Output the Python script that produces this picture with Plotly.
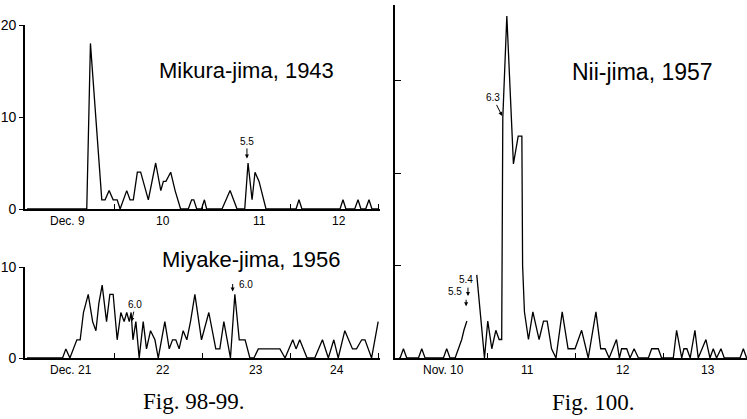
import plotly.graph_objects as go

# Hourly shock counts; hours are counted from 00h of the first labelled day.
mikura_hours = [0, 16.3, 17.3, 20.4, 21.3, 22.4, 23.5, 24.6, 25.4, 27.2,
                28.1, 29.0, 30.1, 31.0, 33.1, 35.1, 36.5, 37.2, 37.9, 39.2,
                40.4, 41.9, 44.0, 44.9, 45.5, 46.3, 47.6, 48.4, 49.0, 53.2,
                55.4, 57.3, 59.4, 60.3, 61.4, 62.2, 63.3, 65.2, 73.4, 74.2,
                75.0, 85.4, 86.2, 87.0, 89.4, 90.3, 91.1, 92.4, 93.3, 94.1, 96]
mikura_counts = [0, 0, 18, 1, 1, 2, 1, 1, 0, 2,
                 1, 1, 4, 4, 1, 5, 2, 3, 3, 4,
                 2, 0, 0, 1, 1, 0, 0, 1, 0, 0,
                 2, 0, 0, 5, 1, 4, 3, 0, 0, 1,
                 0, 0, 1, 0, 0, 1, 0, 0, 1, 0, 0]

miyake_hours = [0, 9.7, 10.6, 11.7, 13.6, 14.5, 15.4, 16.7, 17.9, 18.8,
                19.6, 20.5, 21.7, 22.6, 23.5, 24.6, 25.6, 26.5, 27.2, 27.9,
                28.4, 28.9, 29.7, 30.6, 31.7, 32.6, 33.7, 34.9, 35.8, 37.6,
                38.8, 39.7, 40.6, 41.5, 42.6, 43.6, 44.6, 45.8, 47.6, 49.6,
                51.5, 52.6, 53.7, 55.5, 56.7, 57.9, 59.5, 60.8, 61.9, 63.1,
                65.8, 69.0, 70.4, 72.5, 73.4, 74.4, 76.4, 78.5, 80.6, 82.2,
                83.7, 84.9, 86.7, 88.8, 89.9, 91.3, 92.2, 94.0, 95.8]
miyake_counts = [0, 0, 1, 0, 2, 2, 5, 7, 4, 3,
                 6, 8, 4, 7, 7, 2, 5, 4, 5, 4,
                 5, 2, 4, 0, 4, 1, 3, 2, 0, 4,
                 1, 2, 2, 1, 3, 2, 4, 7, 2, 5,
                 1, 1, 4, 0, 7, 2, 2, 0, 0, 1,
                 1, 1, 0, 2, 1, 2, 0, 0, 2, 0,
                 2, 0, 3, 1, 1, 2, 2, 0, 4]

# None marks the break in the record before the 5.4 shock.
niijima_hours = [0, 0.3, 1.2, 2.1, 5.3, 6.2, 7.1, 12.1, 13.0, 13.9,
                 15.3, 16.2, 17.1, 17.7, 18.5, None,
                 21.2, 23.3, 24.2, 25.3, 26.4, 27.3, 28.0, 28.3, 29.4, 31.2,
                 32.5, 33.5, 33.7, 34.2, 35.3, 36.5, 38.2, 39.4, 40.4, 41.6,
                 42.8, 44.5, 46.1, 48.0, 49.8, 51.6, 53.7, 55.0, 56.2, 57.3,
                 59.3, 60.1, 60.7, 62.1, 63.0, 64.1, 65.3, 68.0, 68.9, 70.7,
                 71.6, 74.8, 75.7, 77.1, 77.7, 78.5, 79.4, 80.7, 81.6, 83.7,
                 84.8, 85.7, 86.6, 87.8, 88.7, 93.0, 93.9, 94.8]
niijima_counts = [0, 0, 1, 0, 0, 1, 0, 0, 1, 0,
                  0, 1, 2, 3, 4, None,
                  9, 0, 4, 1, 3, 2, 2, 26, 37, 21,
                  24, 24, 10, 5, 2, 5, 2, 4, 4, 1,
                  0, 5, 1, 1, 3, 0, 5, 1, 1, 0,
                  2, 0, 1, 1, 0, 1, 0, 0, 1, 1,
                  0, 0, 3, 0, 1, 1, 0, 3, 0, 2,
                  0, 1, 0, 1, 0, 0, 1, 0]

# midnight marks on the time axes, and where each day's name is lettered
day_bounds = [24, 48, 72, 96]
mikura_ticks = [11, 37, 63.5, 85]
mikura_labels = ["Dec. 9", "10", "11", "12"]
miyake_ticks = [12, 37, 62.5, 84.5]
miyake_labels = ["Dec. 21", "22", "23", "24"]
niijima_ticks = [12, 35, 61, 84.3]
niijima_labels = ["Nov. 10", "11", "12", "13"]

SANS = "Liberation Sans"
SERIF = "Liberation Serif"

fig = go.Figure()
line = dict(color="black", width=1.3)
fig.add_trace(go.Scatter(x=mikura_hours, y=mikura_counts, mode="lines", line=line,
                         xaxis="x", yaxis="y", showlegend=False))
fig.add_trace(go.Scatter(x=miyake_hours, y=miyake_counts, mode="lines", line=line,
                         xaxis="x2", yaxis="y2", showlegend=False))
fig.add_trace(go.Scatter(x=niijima_hours, y=niijima_counts, mode="lines", line=line,
                         connectgaps=False, xaxis="x3", yaxis="y3", showlegend=False))


def xaxis_style(domain, rng, anchor):
    return dict(domain=domain, range=rng, anchor=anchor, automargin=False,
                showgrid=False, zeroline=False,
                showline=True, linecolor="black", linewidth=1.5,
                tickmode="array", tickvals=day_bounds, ticks="inside", ticklen=5,
                tickwidth=1.2, tickcolor="black", showticklabels=False)


def yaxis_style(domain, rng, anchor, tickvals, side_ticks, ticklen, labels=True):
    return dict(domain=domain, range=rng, anchor=anchor, automargin=False,
                showgrid=False, zeroline=False,
                showline=True, linecolor="black", linewidth=1.8, ticks=side_ticks,
                ticklen=ticklen, tickwidth=1, tickcolor="black", tickvals=tickvals,
                showticklabels=labels, tickfont=dict(family=SANS, size=14, color="black"))


left_dom = [25 / 747, 380 / 747]
right_dom = [395 / 747, 1.0]
fig.update_layout(
    template="none",
    width=747, height=419, autosize=False,
    margin=dict(l=0, r=0, t=0, b=0, pad=0),
    paper_bgcolor="white", plot_bgcolor="white",
    font=dict(family=SANS, color="black"),
    xaxis=xaxis_style(left_dom, [-0.55, 96.3], "y"),
    yaxis=yaxis_style([1 - 209 / 419, 1 - 25 / 419], [0, 20], "x", [0, 10, 20], "outside", 4),
    xaxis2=xaxis_style(left_dom, [-0.55, 96.3], "y2"),
    yaxis2=yaxis_style([1 - 358 / 419, 1 - 267 / 419], [0, 10], "x2", [0, 10], "outside", 4),
    xaxis3=xaxis_style(right_dom, [-1.1, 94.9], "y3"),
    yaxis3=yaxis_style([1 - 358 / 419, 1 - 5 / 419], [0, 38.2], "x3", [10, 20, 30], "inside", 6,
                       labels=False),
)

mag_font = dict(family=SANS, size=10, color="black")
arrow = dict(showarrow=True, arrowhead=2, arrowsize=0.8, arrowwidth=1, arrowcolor="black",
             standoff=0, font=mag_font)


def label(x, y, text, size, family=SANS):
    return dict(x=x / 747, y=1 - y / 419, xref="paper", yref="paper", text=text,
                xanchor="center", yanchor="middle", showarrow=False,
                font=dict(family=family, size=size, color="black"))


def day_names(positions, names, xref, yref):
    return [dict(x=p, y=0, xref=xref, yref=yref, text=n, xanchor="center", yanchor="top",
                 yshift=-3, showarrow=False, font=dict(family=SANS, size=12, color="black"))
            for p, n in zip(positions, names)]


annotations = [
    # magnitudes of the principal shocks
    dict(x=60.0, y=5.5, xref="x", yref="y", text="5.5", ax=0, ay=-17, **arrow),
    dict(x=28.5, y=4.0, xref="x2", yref="y2", text="6.0", ax=4, ay=-17, **arrow),
    dict(x=56.1, y=7.3, xref="x2", yref="y2", text="", ax=0, ay=-9, **arrow),
    dict(x=59.7, y=8.1, xref="x2", yref="y2", text="6.0", showarrow=False, font=mag_font),
    dict(x=28.1, y=26.2, xref="x3", yref="y3", text="6.3", ax=-9, ay=-18, **arrow),
    dict(x=18.3, y=8.45, xref="x3", yref="y3", text="5.4", showarrow=False, font=mag_font),
    dict(x=18.8, y=6.7, xref="x3", yref="y3", text="", ax=0, ay=-10, **arrow),
    dict(x=15.3, y=7.15, xref="x3", yref="y3", text="5.5", showarrow=False, font=mag_font),
    dict(x=18.3, y=5.6, xref="x3", yref="y3", text="", ax=0, ay=-8, **arrow),
    # panel titles
    label(246, 71, "Mikura-jima, 1943", 22),
    label(252, 259, "Miyake-jima, 1956", 22),
    label(642, 72, "Nii-jima, 1957", 23),
    # figure captions
    label(194, 401, "Fig. 98-99.", 23, SERIF),
    label(593, 402, "Fig. 100.", 23, SERIF),
]
annotations += day_names(mikura_ticks, mikura_labels, "x", "y")
annotations += day_names(miyake_ticks, miyake_labels, "x2", "y2")
annotations += day_names(niijima_ticks, niijima_labels, "x3", "y3")
fig.update_layout(annotations=annotations)

fig.write_html("out.html")
